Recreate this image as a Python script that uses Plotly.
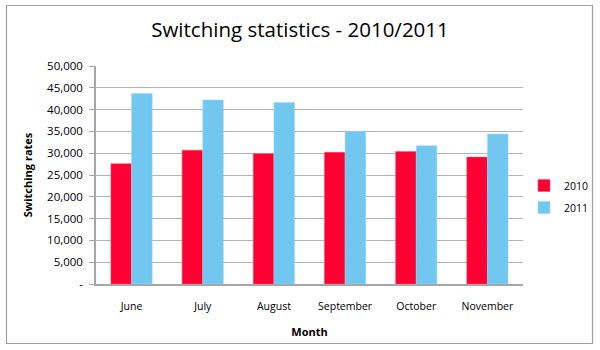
import plotly.graph_objects as go

months = ["June", "July", "August", "September", "October", "November"]
values_2010 = [27600, 30700, 29900, 30200, 30400, 29100]
values_2011 = [43700, 42200, 41600, 35000, 31700, 34400]
tick_vals = [0, 5000, 10000, 15000, 20000, 25000, 30000, 35000, 40000, 45000, 50000]
tick_text = ["-", "5,000", "10,000", "15,000", "20,000", "25,000", "30,000", "35,000", "40,000", "45,000", "50,000"]

FONT = "Open Sans"
fig = go.Figure()
fig.add_trace(go.Bar(name="2010", x=months, y=values_2010, legendgroup="a",
                     marker=dict(color="#FF0033", line=dict(color="#FF4D6A", width=0.5))))
fig.add_trace(go.Bar(name="2011", x=months, y=values_2011, legendgroup="b",
                     marker=dict(color="#71C7EF", line=dict(color="#9ED8F4", width=0.5))))

L, R, T, B = 96, 77, 66, 66
W, H = 600, 350
pw, ph = W - L - R, H - T - B

fig.update_layout(
    width=W, height=H,
    margin=dict(l=L, r=R, t=T, b=B, autoexpand=False),
    paper_bgcolor="white", plot_bgcolor="white",
    barmode="group", bargap=0.42, bargroupgap=0,
    title=dict(text="Switching statistics - 2010/2011", x=0.5, xanchor="center",
               y=1 - 30 / H, yanchor="middle",
               font=dict(family=FONT, size=20.5, color="black")),
    font=dict(family=FONT, size=10, color="black"),
    legend=dict(x=(524 - L) / pw, y=(284 - 171) / ph, xanchor="left", yanchor="top",
                font=dict(family=FONT, size=10.5, color="black"),
                itemwidth=30, traceorder="grouped", tracegroupgap=3,
                bgcolor="rgba(0,0,0,0)"),
    showlegend=True,
)
fig.update_xaxes(showline=True, linecolor="#A6A6A6", linewidth=1.5, automargin=False,
                 ticks="", tickfont=dict(size=10.5, family=FONT), ticklabelstandoff=12,
                 title=dict(text="<b>Month</b>", font=dict(size=11, family=FONT), standoff=16),
                 showgrid=False)
fig.update_yaxes(range=[0, 50000], tickvals=tick_vals, ticktext=tick_text, automargin=False,
                 showline=True, linecolor="#A6A6A6", linewidth=1.5,
                 ticks="outside", ticklen=5, tickcolor="#A6A6A6",
                 showgrid=True, gridcolor="#B4B4B4", gridwidth=1.3,
                 tickfont=dict(size=11.5, family=FONT), ticklabelstandoff=4,
                 title=dict(text="<b>Switching rates</b>", font=dict(size=11, family=FONT), standoff=12),
                 zeroline=False)

# outer chart border
fig.add_shape(type="rect", xref="paper", yref="paper",
              x0=(6.5 - L) / pw, x1=(592.5 - L) / pw,
              y0=(H - B - 343.5) / ph, y1=(H - B - 5.5) / ph,
              line=dict(color="#A0A0A0", width=1.2), fillcolor="rgba(0,0,0,0)", layer="above")

fig.write_html("out.html")
